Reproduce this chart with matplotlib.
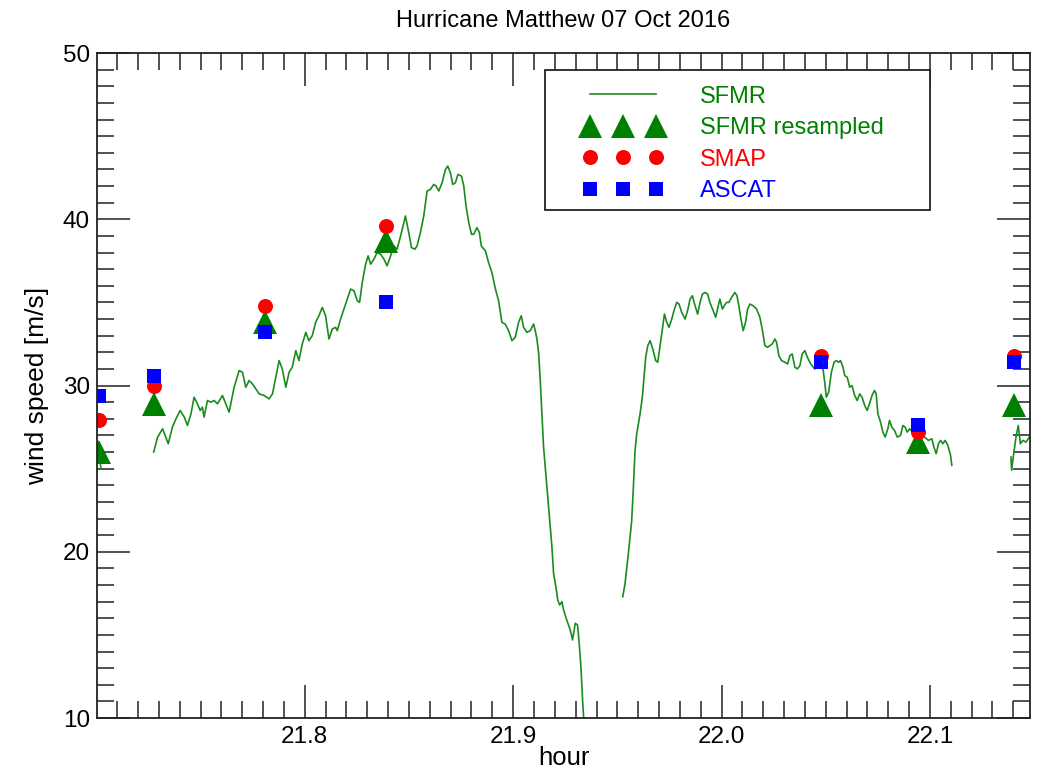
import matplotlib
matplotlib.use('Agg')
import matplotlib.pyplot as plt
from matplotlib.patches import Rectangle
from matplotlib.ticker import MultipleLocator, FormatStrFormatter

plt.rcParams['font.family'] = ['Liberation Sans', 'DejaVu Sans']

# SFMR wind speed along track, three pieces (gaps in the record)
sfmr_hour_0 = [21.7010, 21.7016, 21.7022]
sfmr_wind_0 = [26.2, 25.6, 25.0]

sfmr_hour_1 = [
    21.7275, 21.7294, 21.7318, 21.7345, 21.7365, 21.7382, 21.7402, 21.7422, 21.7437, 21.7454,
    21.7469, 21.7485, 21.7498, 21.7509, 21.7517, 21.7533, 21.7549, 21.7565, 21.7581, 21.7605,
    21.7621, 21.7637, 21.7661, 21.7685, 21.7701, 21.7717, 21.7733, 21.7749, 21.7765, 21.7781,
    21.7805, 21.7829, 21.7845, 21.7861, 21.7877, 21.7892, 21.7909, 21.7925, 21.7940, 21.7957,
    21.7972, 21.7988, 21.8005, 21.8020, 21.8036, 21.8052, 21.8068, 21.8084, 21.8100, 21.8116,
    21.8132, 21.8148, 21.8156, 21.8172, 21.8188, 21.8204, 21.8220, 21.8236, 21.8252, 21.8263,
    21.8276, 21.8292, 21.8304, 21.8316, 21.8332, 21.8347, 21.8364, 21.8380, 21.8395, 21.8412,
    21.8427, 21.8443, 21.8460, 21.8483, 21.8499, 21.8512, 21.8528, 21.8539, 21.8555, 21.8571,
    21.8587, 21.8603, 21.8619, 21.8630, 21.8643, 21.8659, 21.8675, 21.8686, 21.8699, 21.8710,
    21.8723, 21.8735, 21.8752, 21.8763, 21.8774, 21.8787, 21.8800, 21.8811, 21.8826, 21.8838,
    21.8847, 21.8867, 21.8882, 21.8898, 21.8915, 21.8930, 21.8946, 21.8962, 21.8978, 21.8994,
    21.9010, 21.9026, 21.9039, 21.9050, 21.9066, 21.9082, 21.9098, 21.9106, 21.9114, 21.9122,
    21.9130, 21.9138, 21.9146, 21.9154, 21.9162, 21.9170, 21.9178, 21.9186, 21.9194, 21.9205,
    21.9214, 21.9223, 21.9234, 21.9242, 21.9257, 21.9274, 21.9285, 21.9298, 21.9309, 21.9317,
    21.9326, 21.9334, 21.9339, 21.9342]
sfmr_wind_1 = [
    26.0, 26.9, 27.4, 26.5, 27.5, 28.0, 28.5, 28.1, 27.6, 28.3,
    29.3, 28.9, 28.5, 28.7, 28.1, 29.1, 29.0, 29.1, 28.9, 29.4,
    28.9, 28.4, 29.9, 30.9, 30.8, 29.9, 30.3, 30.1, 29.8, 29.5,
    29.4, 29.2, 29.5, 30.5, 31.5, 31.0, 29.9, 30.8, 31.1, 32.1,
    31.5, 32.5, 33.2, 32.7, 33.0, 33.8, 34.2, 34.7, 34.2, 32.8,
    33.4, 33.5, 33.3, 34.0, 34.6, 35.2, 35.8, 35.7, 35.1, 35.0,
    36.2, 37.3, 37.8, 37.3, 37.6, 38.0, 37.9, 37.6, 37.2, 37.8,
    38.4, 38.2, 39.0, 40.2, 39.2, 38.3, 38.2, 38.4, 39.2, 40.2,
    41.7, 41.8, 42.1, 42.0, 41.7, 42.2, 43.0, 43.2, 42.8, 42.1,
    42.2, 42.7, 42.6, 42.0, 40.8, 39.8, 39.1, 39.1, 39.5, 39.2,
    38.4, 38.1, 37.4, 36.8, 35.8, 35.1, 33.8, 33.7, 33.3, 32.7,
    32.9, 33.8, 34.2, 33.5, 33.2, 33.3, 33.7, 33.3, 32.8, 32.0,
    30.3, 28.3, 26.3, 25.1, 23.9, 22.7, 21.5, 20.3, 18.7, 17.9,
    17.1, 16.8, 17.0, 16.5, 15.9, 15.3, 14.7, 15.7, 15.6, 14.5,
    12.9, 10.9, 9.9, 9.0]

sfmr_hour_2 = [
    21.9526, 21.9537, 21.9553, 21.9569, 21.9577, 21.9585, 21.9593, 21.9609, 21.9620, 21.9628,
    21.9636, 21.9646, 21.9657, 21.9670, 21.9684, 21.9694, 21.9705, 21.9716, 21.9726, 21.9737,
    21.9748, 21.9761, 21.9774, 21.9785, 21.9796, 21.9809, 21.9825, 21.9837, 21.9849, 21.9860,
    21.9873, 21.9885, 21.9897, 21.9908, 21.9921, 21.9933, 21.9944, 21.9960, 21.9972, 21.9984,
    21.9992, 22.0004, 22.0013, 22.0024, 22.0035, 22.0048, 22.0064, 22.0074, 22.0083, 22.0093,
    22.0104, 22.0115, 22.0125, 22.0136, 22.0152, 22.0168, 22.0184, 22.0195, 22.0208, 22.0221,
    22.0232, 22.0243, 22.0256, 22.0264, 22.0275, 22.0288, 22.0304, 22.0317, 22.0328, 22.0339,
    22.0352, 22.0364, 22.0376, 22.0387, 22.0400, 22.0412, 22.0428, 22.0447, 22.0466, 22.0487,
    22.0495, 22.0503, 22.0514, 22.0527, 22.0540, 22.0551, 22.0562, 22.0571, 22.0583, 22.0591,
    22.0603, 22.0615, 22.0626, 22.0639, 22.0651, 22.0663, 22.0674, 22.0687, 22.0699, 22.0710,
    22.0722, 22.0734, 22.0742, 22.0750, 22.0763, 22.0774, 22.0785, 22.0798, 22.0806, 22.0817,
    22.0830, 22.0843, 22.0859, 22.0870, 22.0881, 22.0891, 22.0902, 22.0926, 22.0958, 22.0974,
    22.0993, 22.1009, 22.1019, 22.1030, 22.1041, 22.1051, 22.1062, 22.1073, 22.1086, 22.1099,
    22.1105]
sfmr_wind_2 = [
    17.3, 18.1, 19.9, 21.9, 23.9, 26.1, 27.1, 28.3, 29.3, 30.5,
    31.7, 32.4, 32.7, 32.2, 31.5, 31.4, 32.4, 33.4, 34.3, 33.8,
    33.5, 34.0, 34.6, 35.0, 34.9, 34.4, 34.0, 34.5, 35.2, 35.4,
    34.8, 34.3, 35.0, 35.5, 35.6, 35.5, 35.0, 34.5, 34.1, 34.8,
    35.2, 34.6, 34.8, 35.0, 35.0, 35.3, 35.6, 35.4, 34.8, 34.0,
    33.3, 33.8, 34.6, 34.9, 34.8, 34.6, 34.1, 33.4, 32.4, 32.3,
    32.4, 32.5, 32.8, 32.6, 31.8, 31.5, 31.4, 31.3, 31.8, 31.9,
    31.1, 31.0, 31.2, 31.9, 32.1, 31.7, 31.3, 31.0, 31.1, 31.0,
    30.2, 29.3, 29.6, 30.8, 31.4, 31.5, 31.4, 31.5, 31.1, 30.6,
    30.5, 29.9, 30.0, 29.4, 29.1, 29.5, 29.3, 28.8, 28.5, 28.9,
    29.4, 29.7, 29.5, 28.3, 27.8, 27.2, 26.9, 27.4, 27.9, 27.5,
    27.3, 26.9, 27.0, 27.6, 27.5, 27.2, 27.4, 27.1, 26.9, 26.9,
    26.7, 26.8, 26.3, 25.9, 26.5, 26.7, 26.5, 26.7, 26.4, 25.8,
    25.2]

sfmr_hour_3 = [22.1389, 22.1392, 22.1402, 22.1413, 22.1424, 22.1434, 22.1446, 22.1461, 22.1477]
sfmr_wind_3 = [25.7, 24.9, 25.9, 26.9, 27.6, 26.5, 26.7, 26.6, 26.9]

# collocated points
match_hour = [21.7012, 21.7278, 21.7808, 21.8391, 22.0479, 22.0942, 22.1405]
sfmr_resampled = [26.0, 28.9, 33.8, 38.7, 28.8, 26.6, 28.8]
smap_wind = [27.9, 30.0, 34.8, 39.6, 31.8, 27.2, 31.8]
ascat_wind = [29.4, 30.55, 33.25, 35.0, 31.4, 27.6, 31.4]

green = '#008000'
line_green = '#1a8c1f'
frame_col = '#222222'

fig = plt.figure(figsize=(10.43, 7.71), dpi=100)
ax = fig.add_axes([0.093, 0.0687, 0.8945, 0.8625])

ax.plot(sfmr_hour_1, sfmr_wind_1, color=line_green, lw=1.2, label='SFMR')
for h, w in [(sfmr_hour_0, sfmr_wind_0), (sfmr_hour_2, sfmr_wind_2), (sfmr_hour_3, sfmr_wind_3)]:
    ax.plot(h, w, color=line_green, lw=1.2)

ax.plot(match_hour, sfmr_resampled, ls='none', marker='^', ms=17, mew=0,
        color=green, label='SFMR resampled')
ax.plot(match_hour, smap_wind, ls='none', marker='o', ms=10.8, mew=0,
        color='red', label='SMAP')
ax.plot(match_hour, ascat_wind, ls='none', marker='s', ms=10.5, mew=0,
        color='blue', label='ASCAT')

ax.set_xlim(21.7003, 22.148)
ax.set_ylim(10, 50)
ax.xaxis.set_major_locator(MultipleLocator(0.1))
ax.xaxis.set_minor_locator(MultipleLocator(0.01))
ax.yaxis.set_major_locator(MultipleLocator(10))
ax.yaxis.set_minor_locator(MultipleLocator(1))
ax.xaxis.set_major_formatter(FormatStrFormatter('%.1f'))

ax.tick_params(which='both', direction='in', top=True, right=True,
               width=1.1, color=frame_col, labelsize=17.5)
ax.tick_params(which='major', length=24)
ax.tick_params(which='minor', length=12)
ax.tick_params(axis='x', pad=6)
ax.tick_params(axis='y', pad=5)
for sp in ax.spines.values():
    sp.set_color(frame_col)
    sp.set_linewidth(1.3)

ax.set_xlabel('hour', fontsize=18.5, labelpad=-2)
ax.set_ylabel('wind speed [m/s]', fontsize=19, labelpad=10)
ax.set_title('Hurricane Matthew 07 Oct 2016', fontsize=17, pad=19)

# legend box
ax.add_patch(Rectangle((0.480, 0.764), 0.413, 0.210, transform=ax.transAxes,
                       facecolor='white', edgecolor=frame_col, lw=1.3, zorder=4))
leg = ax.legend(loc='upper left', bbox_to_anchor=(0.521, 0.951), numpoints=3,
                frameon=False, fontsize=17, handlelength=3.4, handletextpad=1.55,
                labelspacing=0.4, borderpad=0, borderaxespad=0)
for txt, c in zip(leg.get_texts(), [green, green, 'red', 'blue']):
    txt.set_color(c)

fig.savefig('out.png', dpi=100)
